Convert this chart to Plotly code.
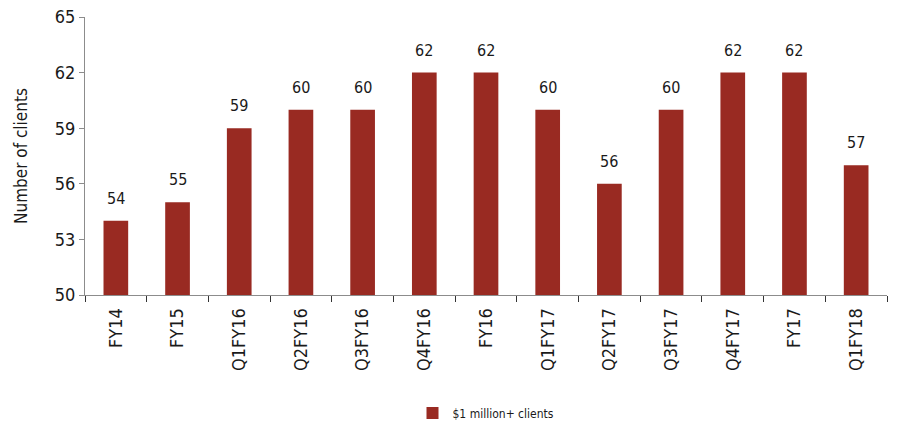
import plotly.graph_objects as go

categories = ["FY14", "FY15", "Q1FY16", "Q2FY16", "Q3FY16", "Q4FY16", "FY16",
              "Q1FY17", "Q2FY17", "Q3FY17", "Q4FY17", "FY17", "Q1FY18"]
clients = [54, 55, 59, 60, 60, 62, 62, 60, 56, 60, 62, 62, 57]
series_name = "$1 million+ clients"
y_ticks = [50, 53, 56, 59, 62, 65]

FONT = "DejaVu Sans Condensed, Liberation Sans Narrow, Roboto, sans-serif"
BAR = "#992A22"
AXIS = "#8c8c8c"

fig = go.Figure()
fig.add_trace(go.Bar(
    x=categories, y=clients, name=series_name,
    marker=dict(color=BAR, line=dict(width=0)),
    width=0.4,
    showlegend=True,
))

for c, v in zip(categories, clients):
    fig.add_annotation(x=c, y=v, text=str(v), showarrow=False,
                       yanchor="bottom", yshift=11,
                       font=dict(family=FONT, size=16, color="#1a1a1a"))

fig.update_layout(
    width=899, height=428,
    margin=dict(l=85, r=12, t=17, b=133, autoexpand=False),
    paper_bgcolor="white", plot_bgcolor="white",
    font=dict(family=FONT, color="#1a1a1a"),
    bargap=0.6,
    legend=dict(orientation="h", x=0.5, xanchor="center",
                yref="container", y=0.035, yanchor="middle",
                font=dict(family=FONT, size=12, color="#1a1a1a"),
                itemwidth=30),
    xaxis=dict(
        type="category",
        showline=True, linecolor=AXIS, linewidth=1,
        ticks="outside", ticklen=6, tickcolor="#333", tickson="boundaries",
        tickangle=-90, tickfont=dict(family=FONT, size=18, color="#1a1a1a"),
        ticklabelstandoff=5,
        showgrid=False, range=[-0.5, 12.5], automargin=False,
    ),
    yaxis=dict(
        range=[50, 65], tickvals=y_ticks,
        showline=True, linecolor=AXIS, linewidth=1,
        ticks="outside", ticklen=5, tickcolor=AXIS,
        tickfont=dict(family=FONT, size=18, color="#1a1a1a"),
        showgrid=False, zeroline=False, automargin=False,
        title=dict(text="Number of clients", standoff=22,
                   font=dict(family=FONT, size=17, color="#1a1a1a")),
    ),
)

fig.write_html("out.html")
